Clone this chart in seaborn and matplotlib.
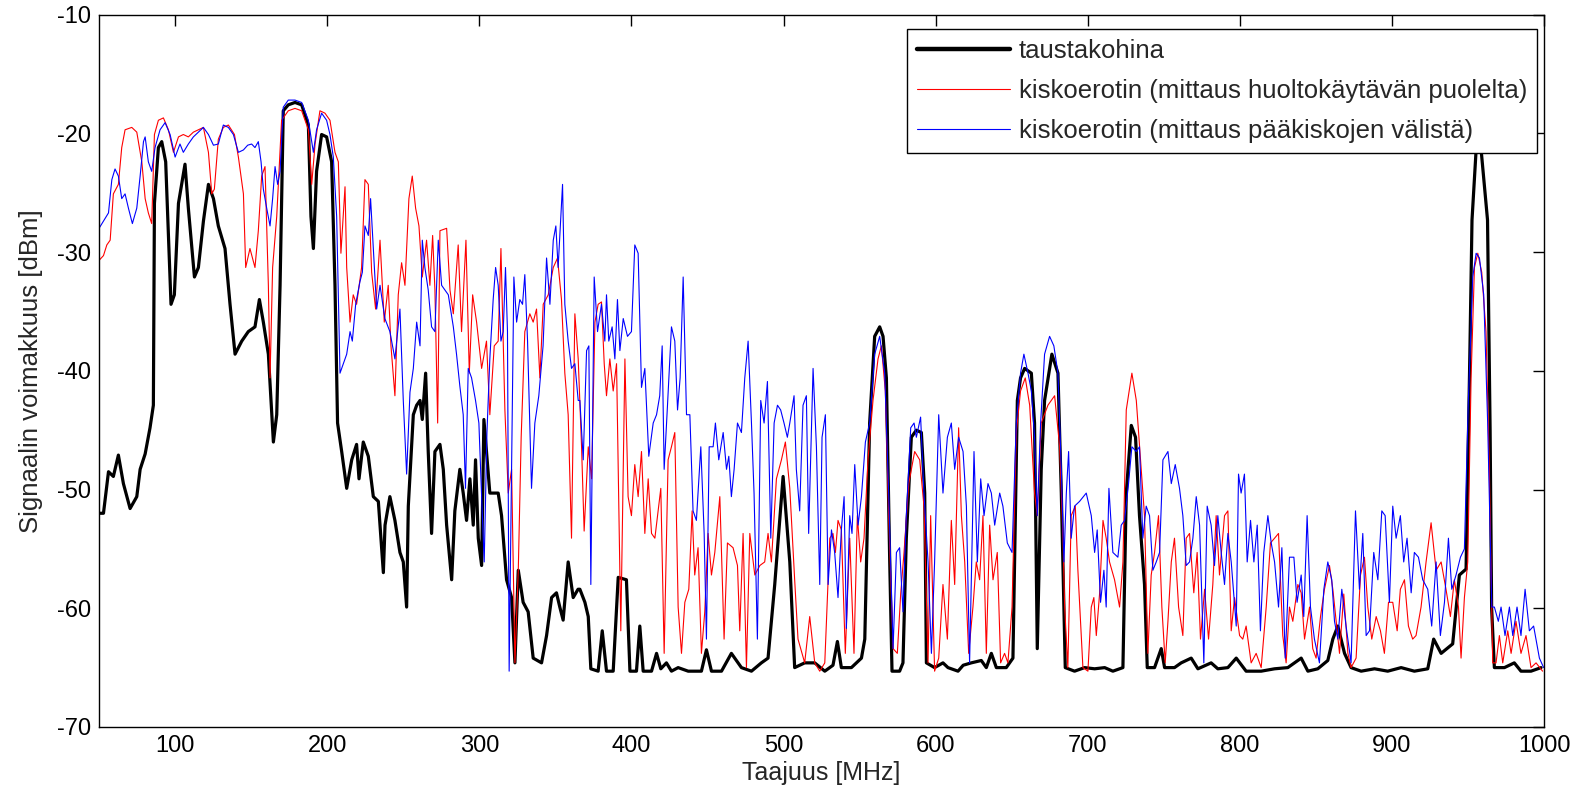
import matplotlib
matplotlib.use("Agg")
import matplotlib.pyplot as plt
import seaborn as sns
import pandas as pd

# ---------------- data ----------------
bg_freq = [50.0, 52.9, 56.2, 59.4, 62.7, 66.0, 70.4, 74.8, 77.0, 80.3, 83.5, 85.7, 86.4, 89.0, 91.2, 93.8,
           97.3, 99.5, 102.2, 106.5, 108.7, 112.7, 115.3, 118.6, 121.9, 125.2, 128.4, 132.8, 136.1, 139.4,
           143.8, 148.1, 152.5, 155.4, 158.0, 161.3, 164.6, 166.8, 169.0, 171.1, 174.4, 178.8, 183.2, 187.6,
           189.3, 190.9, 193.0, 196.3, 199.6, 202.9, 205.1, 206.8, 209.5, 212.8, 216.1, 219.3, 220.9, 223.7,
           227.0, 230.3, 233.6, 236.9, 238.0, 241.2, 244.5, 247.8, 250.0, 252.2, 253.3, 256.6, 258.8, 261.0,
           262.5, 264.7, 266.4, 268.6, 270.8, 274.1, 276.3, 278.5, 281.8, 283.9, 287.2, 289.4, 291.6, 293.8,
           296.0, 297.5, 299.3, 301.5, 303.0, 304.7, 306.9, 312.4, 314.6, 317.9, 321.2, 323.4, 325.6, 328.8,
           332.1, 335.4, 340.9, 344.2, 347.5, 350.7, 352.9, 355.1, 358.4, 361.7, 364.9, 366.1, 369.4, 371.6,
           373.3, 378.1, 380.8, 383.6, 388.0, 391.3, 396.7, 399.0, 403.3, 405.5, 407.7, 413.2, 416.5, 419.3,
           423.0, 426.3, 430.7, 437.3, 446.0, 449.3, 452.6, 459.2, 465.7, 472.3, 478.9, 485.4, 489.8, 494.2,
           499.7, 504.1, 507.3, 513.9, 520.5, 527.1, 532.5, 535.4, 538.0, 544.6, 551.2, 553.4, 556.6, 559.9,
           563.2, 565.4, 567.6, 569.8, 571.3, 576.3, 578.5, 580.7, 584.0, 587.3, 590.6, 592.8, 593.9, 599.3,
           604.8, 608.1, 614.7, 618.1, 623.4, 630.0, 633.3, 636.6, 639.9, 646.4, 650.8, 653.7, 655.8, 658.5,
           662.9, 665.0, 666.8, 669.4, 671.6, 676.4, 680.4, 682.6, 685.2, 691.3, 697.9, 704.5, 711.1, 716.5,
           723.1, 725.3, 728.6, 731.4, 734.0, 737.3, 739.1, 743.9, 748.3, 750.5, 757.0, 761.4, 768.0, 772.4,
           781.1, 785.5, 792.1, 797.6, 804.1, 814.0, 822.8, 831.5, 840.3, 844.7, 851.2, 857.8, 861.1, 864.4,
           868.8, 873.1, 879.7, 888.5, 897.2, 906.0, 914.7, 923.5, 927.4, 932.3, 939.9, 944.3, 948.7, 951.0,
           952.6, 955.3, 957.0, 958.6, 962.8, 964.5, 965.5, 967.3, 973.9, 980.4, 984.8, 991.4, 998.0]
bg_db = [-52.0, -52.0, -48.5, -48.9, -47.1, -49.5, -51.6, -50.6, -48.3, -47.0, -44.8, -42.9, -25.9, -21.2, -20.7, -22.4,
         -34.4, -33.6, -25.9, -22.6, -26.3, -32.1, -31.3, -27.4, -24.3, -25.5, -27.8, -29.7, -34.4, -38.6,
         -37.5, -36.7, -36.3, -34.0, -35.9, -38.6, -46.0, -43.7, -32.8, -18.1, -17.6, -17.4, -17.6, -19.3,
         -27.0, -29.7, -23.2, -20.1, -20.3, -22.4, -32.8, -44.4, -46.8, -49.9, -47.5, -46.2, -49.1, -46.0,
         -47.2, -50.6, -51.0, -57.0, -53.0, -50.6, -52.6, -55.3, -56.1, -59.9, -51.4, -43.7, -42.9, -42.5,
         -44.1, -40.2, -46.8, -53.7, -46.8, -46.2, -48.3, -53.0, -57.6, -51.8, -48.3, -50.3, -52.6, -49.1,
         -53.0, -47.5, -54.1, -56.4, -44.1, -46.8, -50.3, -50.3, -52.2, -57.6, -59.1, -64.6, -56.8, -59.5,
         -60.3, -64.2, -64.6, -62.3, -59.1, -58.7, -59.9, -61.0, -56.1, -59.1, -58.4, -58.4, -59.5, -60.7,
         -65.1, -65.3, -61.9, -65.3, -65.3, -57.4, -57.6, -65.3, -65.3, -61.5, -65.3, -65.3, -63.8, -65.1,
         -64.6, -65.3, -65.0, -65.3, -65.3, -63.5, -65.3, -65.3, -63.8, -65.0, -65.3, -64.6, -64.2, -58.0,
         -48.9, -56.1, -65.0, -64.6, -64.6, -65.3, -64.8, -62.8, -65.0, -65.0, -64.2, -62.6, -44.4, -37.1,
         -36.3, -37.1, -40.6, -56.1, -65.3, -65.3, -64.6, -54.1, -45.6, -45.0, -45.2, -50.3, -64.6, -65.0,
         -64.6, -65.0, -65.3, -64.8, -64.6, -64.4, -65.0, -63.8, -65.0, -65.0, -64.2, -42.5, -40.6, -39.8,
         -40.2, -44.4, -63.4, -48.3, -42.5, -38.6, -40.2, -50.3, -65.0, -65.3, -65.0, -65.1, -65.0, -65.3,
         -65.0, -50.3, -44.6, -45.6, -52.2, -58.0, -65.0, -65.0, -63.4, -65.0, -65.0, -64.6, -64.2, -65.1,
         -64.6, -65.1, -65.0, -64.2, -65.3, -65.3, -65.1, -65.0, -64.2, -65.3, -65.1, -64.4, -62.6, -61.5,
         -63.8, -65.0, -65.3, -65.1, -65.3, -65.0, -65.3, -65.1, -62.6, -63.8, -63.0, -57.2, -56.7, -40.0,
         -27.3, -21.4, -17.5, -21.4, -27.3, -45.0, -60.0, -65.0, -65.0, -64.6, -65.3, -65.3, -65.0]

red_freq = [50.0, 52.9, 55.1, 57.3, 59.4, 62.7, 64.9, 67.1, 71.5, 74.8, 78.1, 80.3, 82.4, 84.6, 86.4, 89.0,
            92.3, 95.6, 98.9, 102.2, 105.4, 108.7, 112.0, 115.3, 118.6, 121.9, 124.1, 125.8, 128.4, 131.7,
            135.0, 139.0, 141.6, 144.9, 146.4, 149.2, 152.5, 154.7, 156.9, 159.1, 161.3, 162.4, 164.1, 166.8,
            170.0, 174.4, 178.8, 183.2, 187.6, 189.8, 192.0, 195.2, 198.5, 201.8, 205.1, 207.3, 209.0, 210.6,
            211.7, 212.8, 215.0, 217.1, 219.3, 222.6, 224.8, 227.0, 229.2, 231.8, 234.7, 237.5, 240.1, 241.9,
            244.5, 246.7, 248.9, 251.1, 253.7, 255.9, 258.1, 260.3, 262.5, 265.3, 267.5, 269.3, 270.8, 272.6,
            274.1, 278.5, 280.7, 282.9, 286.1, 288.3, 291.2, 293.4, 295.6, 298.2, 301.5, 304.7, 306.9, 309.8,
            312.4, 314.2, 316.8, 319.0, 321.2, 323.4, 325.6, 327.5, 329.9, 333.2, 335.4, 337.6, 339.8, 342.0,
            345.3, 348.6, 351.4, 354.0, 356.2, 358.4, 360.6, 362.8, 365.0, 367.2, 368.9, 371.6, 373.8, 376.0,
            378.1, 380.3, 382.1, 383.6, 385.8, 388.0, 390.2, 393.0, 395.7, 397.8, 400.0, 402.2, 404.4, 406.6,
            408.8, 411.0, 413.2, 415.4, 419.3, 421.5, 424.1, 426.3, 428.5, 430.7, 432.9, 435.1, 437.7, 439.9,
            441.6, 443.8, 446.0, 448.2, 450.4, 452.6, 454.8, 458.1, 460.9, 463.1, 466.8, 469.7, 471.2, 473.4,
            475.6, 477.8, 481.1, 484.4, 487.6, 489.8, 492.0, 495.3, 498.6, 501.2, 504.1, 507.3, 509.5, 513.9,
            517.2, 520.5, 523.8, 527.1, 530.4, 532.5, 534.1, 535.8, 538.0, 540.6, 543.5, 546.3, 548.5, 550.7,
            552.9, 555.5, 558.8, 562.1, 564.3, 566.9, 569.1, 572.0, 574.8, 577.0, 579.2, 582.3, 586.2, 589.5,
            592.3, 595.0, 596.7, 599.3, 602.0, 604.8, 607.7, 610.3, 612.5, 615.1, 616.9, 619.1, 621.7, 624.5,
            626.7, 628.9, 631.1, 633.3, 635.5, 637.7, 640.5, 642.7, 645.3, 647.5, 650.2, 653.0, 655.8, 658.9,
            661.8, 665.0, 666.8, 669.4, 673.8, 678.2, 681.5, 683.7, 684.8, 686.9, 689.1, 691.8, 693.5, 696.8,
            700.1, 702.3, 704.0, 705.6, 707.8, 710.0, 712.1, 714.3, 717.6, 720.9, 723.1, 725.3, 729.0, 731.9,
            735.1, 737.3, 739.5, 741.7, 743.9, 746.5, 748.7, 750.9, 752.7, 754.9, 757.0, 759.7, 762.5, 764.7,
            766.9, 769.7, 771.9, 774.1, 776.8, 779.4, 782.2, 784.4, 786.6, 789.9, 792.1, 794.3, 796.5, 799.8,
            801.9, 804.1, 807.4, 810.7, 814.0, 817.3, 820.1, 822.8, 825.4, 828.2, 830.4, 832.6, 834.8, 838.1,
            840.3, 842.5, 845.8, 847.9, 850.1, 853.0, 855.6, 858.9, 861.1, 863.3, 865.5, 868.3, 871.0, 873.1,
            876.4, 879.3, 881.9, 884.1, 886.7, 889.6, 892.4, 895.0, 897.7, 900.5, 903.4, 905.5, 908.2, 910.8,
            913.6, 915.8, 919.1, 922.4, 925.7, 929.0, 932.3, 935.5, 938.4, 941.0, 943.7, 945.4, 947.6, 949.8,
            952.0, 954.2, 956.4, 959.0, 961.8, 964.0, 966.2, 968.4, 970.6, 972.8, 976.1, 978.3, 981.5, 984.8,
            988.1, 991.4, 994.7, 999.0]
red_db = [-30.7, -30.3, -29.4, -29.0, -25.1, -24.3, -21.2, -19.7, -19.5, -19.9, -22.4, -25.5, -26.7, -27.6, -20.1, -18.9,
          -18.7, -19.7, -21.6, -20.3, -20.1, -20.3, -19.9, -19.7, -19.5, -21.6, -25.1, -24.7, -20.5, -19.5,
          -19.3, -20.1, -22.0, -25.1, -31.3, -29.7, -31.3, -28.2, -23.6, -22.8, -32.8, -40.6, -31.3, -27.0,
          -18.9, -18.1, -17.9, -18.1, -19.7, -24.3, -20.9, -18.1, -18.3, -18.9, -21.6, -22.4, -30.1, -26.7,
          -24.5, -31.3, -35.9, -33.6, -34.4, -31.3, -23.9, -24.3, -31.7, -34.8, -29.0, -35.9, -32.8, -37.9,
          -42.1, -33.6, -30.9, -32.8, -25.5, -23.6, -26.3, -27.8, -32.1, -29.0, -32.8, -28.6, -33.2, -44.4,
          -28.2, -28.0, -33.2, -35.2, -29.4, -36.7, -29.0, -40.2, -33.6, -35.9, -39.8, -37.5, -43.7, -37.9,
          -37.5, -29.7, -43.3, -50.3, -48.3, -64.6, -56.8, -45.6, -36.7, -35.2, -35.9, -34.8, -40.6, -34.4,
          -33.6, -31.3, -30.5, -34.0, -40.2, -43.7, -54.1, -35.2, -39.0, -46.4, -53.5, -46.4, -49.1, -35.9,
          -34.4, -34.2, -39.4, -42.1, -39.0, -41.7, -39.4, -61.9, -39.0, -50.6, -52.2, -47.9, -50.6, -46.8,
          -53.7, -49.1, -53.7, -54.1, -49.9, -63.8, -47.5, -46.4, -45.2, -59.9, -63.8, -59.5, -58.4, -51.8,
          -57.2, -54.9, -63.8, -60.3, -53.7, -57.2, -55.3, -50.6, -62.6, -54.5, -54.9, -56.4, -61.9, -53.7,
          -65.0, -53.7, -57.2, -56.4, -56.1, -53.7, -56.1, -49.1, -47.5, -46.0, -49.9, -57.6, -62.6, -64.6,
          -60.7, -64.6, -65.3, -64.6, -54.1, -53.7, -55.3, -52.6, -53.4, -63.8, -54.1, -63.8, -52.2, -56.1,
          -54.1, -47.5, -42.5, -39.0, -37.9, -41.7, -52.2, -63.4, -63.8, -58.8, -55.3, -49.5, -46.8, -47.5,
          -51.4, -64.6, -52.2, -65.3, -64.2, -58.0, -62.6, -52.6, -58.0, -44.8, -52.2, -56.1, -63.8, -59.9,
          -56.1, -57.6, -52.2, -63.8, -53.0, -57.6, -55.3, -64.6, -63.8, -64.6, -59.9, -45.2, -41.7, -40.6,
          -42.9, -50.3, -52.2, -44.4, -42.9, -42.1, -46.4, -54.1, -59.9, -65.0, -52.2, -51.4, -56.8, -65.0,
          -65.3, -59.9, -59.1, -62.3, -58.7, -52.6, -54.1, -56.1, -57.6, -59.9, -56.1, -43.3, -40.2, -42.5,
          -48.3, -52.2, -63.8, -57.2, -55.3, -52.2, -59.9, -64.6, -61.1, -56.1, -54.1, -59.9, -62.3, -54.1,
          -53.7, -58.7, -55.3, -62.6, -58.4, -62.6, -58.0, -52.2, -57.2, -52.2, -51.8, -61.9, -59.1, -62.3,
          -62.6, -61.5, -64.6, -63.8, -65.0, -59.9, -54.5, -54.1, -53.7, -62.3, -64.6, -59.9, -61.1, -58.0,
          -58.7, -62.6, -59.9, -63.4, -64.2, -60.7, -58.4, -56.4, -58.4, -61.1, -63.8, -58.8, -63.8, -65.0,
          -64.2, -57.2, -55.7, -59.9, -62.6, -60.7, -61.9, -63.8, -59.5, -59.5, -61.9, -58.4, -57.6, -61.5,
          -62.6, -62.3, -59.9, -56.1, -52.8, -56.8, -56.1, -58.4, -60.7, -57.6, -59.9, -64.2, -59.1, -56.1,
          -40.6, -31.3, -30.1, -31.7, -36.7, -48.3, -64.6, -64.6, -62.3, -64.6, -61.9, -63.8, -61.1, -63.8,
          -62.3, -65.0, -64.6, -65.3]

blue_freq = [50.0, 52.9, 56.2, 58.4, 60.5, 62.7, 64.9, 67.1, 69.3, 71.9, 74.8, 77.0, 79.2, 80.3, 82.4, 84.6,
             86.8, 90.1, 93.4, 96.7, 100.0, 103.2, 105.4, 108.7, 112.0, 115.3, 118.6, 121.9, 125.2, 128.4,
             131.7, 135.0, 138.3, 141.6, 144.9, 147.7, 150.3, 152.5, 154.7, 156.5, 158.0, 160.2, 162.4, 164.1,
             165.7, 167.4, 169.0, 171.1, 174.4, 178.8, 183.2, 187.6, 190.9, 193.0, 196.3, 199.6, 201.8, 204.0,
             206.2, 208.4, 210.6, 212.8, 215.0, 216.5, 218.7, 221.5, 223.1, 224.8, 227.0, 228.5, 230.3, 232.5,
             234.7, 237.9, 241.2, 244.5, 247.8, 250.0, 252.2, 254.4, 256.6, 258.8, 261.0, 262.5, 264.2, 266.4,
             268.6, 270.8, 273.0, 275.2, 277.4, 279.6, 282.9, 285.0, 287.2, 289.4, 290.9, 292.7, 294.9, 297.5,
             299.7, 301.5, 303.2, 305.0, 306.9, 309.1, 310.7, 312.4, 314.2, 315.7, 317.2, 318.5, 319.6, 321.2,
             322.7, 324.5, 326.6, 328.4, 329.9, 331.7, 334.3, 336.5, 339.1, 341.9, 344.2, 346.4, 348.6, 350.3,
             351.8, 354.7, 356.2, 358.4, 360.6, 362.8, 365.0, 366.1, 368.3, 370.5, 372.0, 373.3, 375.5, 377.7,
             380.3, 382.5, 383.6, 385.1, 387.3, 389.1, 390.8, 392.4, 394.6, 397.4, 400.0, 402.2, 404.4, 406.6,
             408.8, 411.4, 414.3, 416.5, 418.6, 420.2, 421.5, 423.7, 426.3, 428.5, 430.3, 432.0, 434.0, 436.2,
             438.4, 440.5, 442.7, 445.6, 447.8, 449.3, 451.1, 453.7, 455.2, 457.4, 460.3, 462.5, 464.0, 465.7,
             467.5, 469.7, 472.3, 474.5, 476.7, 478.9, 480.6, 482.8, 485.0, 487.2, 489.4, 491.6, 493.8, 496.0,
             498.1, 500.3, 502.5, 504.1, 506.9, 508.4, 510.6, 512.8, 515.0, 516.5, 519.4, 521.6, 523.8, 525.3,
             527.5, 529.3, 531.5, 533.6, 535.8, 538.0, 539.8, 541.3, 543.5, 545.0, 546.8, 549.0, 551.2, 553.8,
             556.6, 559.9, 563.2, 566.5, 569.1, 572.0, 574.2, 576.3, 578.5, 580.7, 583.6, 585.8, 587.3, 590.1,
             592.3, 595.0, 597.2, 599.3, 602.0, 604.8, 607.7, 610.3, 612.5, 615.1, 618.0, 620.2, 622.3, 625.2,
             627.4, 629.6, 631.8, 634.4, 636.6, 638.8, 642.1, 644.2, 647.1, 650.2, 653.0, 655.8, 658.0, 660.7,
             662.9, 665.0, 666.8, 669.0, 671.6, 674.9, 677.7, 680.4, 682.6, 684.3, 685.9, 687.4, 689.1, 691.3,
             694.6, 699.0, 702.3, 704.5, 706.2, 708.4, 710.6, 712.1, 713.9, 716.5, 719.8, 722.0, 724.2, 726.8,
             729.0, 731.9, 734.0, 736.2, 738.4, 740.6, 742.8, 745.0, 747.2, 749.4, 752.7, 754.9, 757.5, 760.3,
             762.5, 764.7, 766.9, 769.1, 771.3, 773.5, 776.3, 778.5, 781.1, 783.3, 785.5, 787.7, 789.9, 792.1,
             794.3, 797.6, 799.1, 800.8, 803.0, 804.8, 807.0, 809.2, 811.4, 813.5, 815.7, 818.4, 820.6, 822.8,
             825.4, 827.6, 829.8, 832.6, 835.5, 837.6, 840.3, 842.0, 844.2, 846.4, 849.0, 852.3, 855.2, 857.8,
             860.4, 862.2, 864.4, 867.0, 869.8, 873.1, 876.0, 878.6, 880.8, 883.0, 885.2, 888.0, 890.7, 893.3,
             895.5, 898.3, 900.5, 902.7, 905.5, 907.7, 909.9, 912.6, 914.7, 917.4, 920.2, 923.5, 926.1, 929.0,
             931.8, 934.5, 937.1, 939.3, 942.1, 945.0, 947.6, 950.2, 953.1, 955.3, 957.5, 960.3, 962.9, 965.6,
             967.3, 969.9, 971.7, 974.3, 977.2, 979.4, 982.2, 984.8, 987.5, 990.3, 993.1, 996.9, 999.7]
blue_db = [-28.0, -27.4, -26.7, -23.9, -23.0, -23.6, -25.5, -25.1, -26.3, -27.6, -26.3, -23.6, -20.7, -20.3, -22.4, -23.2,
           -21.2, -19.7, -19.1, -20.1, -22.0, -20.9, -21.6, -20.9, -20.3, -19.9, -19.5, -20.1, -21.0, -20.9,
           -19.3, -19.5, -20.1, -21.6, -21.4, -21.0, -20.9, -21.2, -20.7, -22.4, -24.7, -26.3, -27.8, -25.5,
           -22.8, -24.3, -23.2, -17.8, -17.2, -17.2, -17.4, -18.9, -21.6, -19.7, -18.3, -18.9, -20.1, -22.0,
           -27.0, -40.2, -39.4, -38.6, -36.7, -37.5, -34.4, -32.5, -31.7, -27.8, -28.6, -25.5, -29.7, -34.8,
           -32.8, -35.6, -36.7, -39.0, -34.8, -42.5, -48.7, -41.8, -39.8, -35.9, -37.9, -29.0, -31.3, -33.2,
           -36.3, -36.7, -29.0, -32.8, -33.2, -33.6, -36.3, -38.6, -41.3, -43.7, -49.9, -39.8, -40.6, -42.5,
           -44.4, -50.6, -56.1, -45.2, -39.0, -34.0, -31.3, -32.8, -37.5, -36.7, -31.3, -36.7, -65.3, -48.3,
           -32.1, -35.9, -34.0, -34.4, -31.9, -37.5, -49.9, -44.4, -42.1, -37.9, -30.5, -34.4, -29.0, -27.8,
           -31.3, -24.3, -34.4, -37.5, -39.8, -39.4, -42.5, -42.5, -47.5, -38.3, -37.9, -58.0, -32.1, -36.7,
           -34.4, -37.5, -33.6, -37.5, -36.3, -39.0, -34.0, -38.3, -35.6, -37.1, -36.7, -29.4, -30.1, -41.4,
           -39.8, -47.2, -44.4, -43.7, -42.1, -37.9, -48.3, -42.9, -36.3, -37.5, -43.3, -40.6, -32.1, -43.7,
           -43.7, -51.8, -52.6, -46.4, -53.7, -62.6, -46.4, -46.4, -44.4, -47.5, -45.2, -48.3, -47.2, -50.6,
           -48.3, -44.4, -45.2, -40.6, -37.5, -44.4, -50.3, -62.6, -42.5, -44.4, -40.9, -54.1, -44.4, -42.9,
           -43.3, -44.4, -45.6, -44.4, -42.1, -48.3, -51.8, -42.9, -42.1, -53.7, -39.8, -46.4, -58.0, -45.6,
           -43.7, -58.0, -53.4, -55.3, -59.1, -53.4, -50.6, -61.7, -52.2, -53.7, -47.9, -53.0, -50.6, -46.0,
           -44.4, -38.6, -37.1, -40.2, -50.3, -63.4, -55.3, -54.9, -60.3, -52.2, -44.8, -44.4, -45.6, -43.9,
           -50.3, -56.1, -63.8, -56.1, -43.7, -50.3, -45.6, -44.4, -48.3, -45.6, -46.8, -51.4, -64.6, -46.8,
           -56.1, -49.1, -52.2, -49.5, -50.3, -53.0, -50.3, -51.4, -54.5, -55.3, -44.4, -40.2, -38.6, -40.2,
           -41.7, -45.6, -52.2, -44.4, -38.6, -37.1, -37.9, -40.2, -48.3, -56.1, -50.3, -46.8, -54.1, -51.4,
           -51.0, -50.3, -52.2, -55.3, -53.4, -59.5, -56.8, -59.9, -49.9, -55.3, -55.7, -53.0, -52.6, -49.5,
           -46.4, -46.8, -46.4, -54.1, -51.4, -52.2, -56.8, -56.1, -55.3, -47.5, -46.8, -49.5, -47.9, -49.9,
           -52.2, -56.4, -56.1, -54.1, -50.6, -53.0, -64.6, -51.4, -53.0, -56.4, -52.2, -55.3, -58.0, -53.7,
           -56.1, -61.5, -48.7, -50.3, -48.7, -56.1, -52.6, -56.1, -53.0, -61.9, -55.3, -52.2, -54.5, -56.1,
           -59.9, -54.9, -64.2, -55.7, -55.7, -59.5, -57.2, -60.7, -52.2, -59.9, -62.6, -64.6, -58.4, -56.1,
           -57.6, -61.1, -62.6, -58.4, -61.5, -64.6, -51.8, -58.4, -53.7, -62.3, -61.9, -55.3, -57.6, -51.8,
           -52.2, -59.5, -51.4, -54.1, -52.2, -56.1, -54.1, -58.7, -55.3, -55.7, -57.6, -58.4, -61.5, -56.1,
           -62.3, -59.5, -54.1, -58.4, -57.2, -55.7, -55.0, -42.5, -32.1, -30.1, -30.5, -33.6, -44.4, -59.9,
           -59.9, -61.1, -59.9, -62.3, -59.9, -62.3, -59.9, -62.3, -58.4, -61.9, -61.5, -64.2, -65.0]

labels = ["taustakohina",
          "kiskoerotin (mittaus huoltokäytävän puolelta)",
          "kiskoerotin (mittaus pääkiskojen välistä)"]
x_ticks = [100, 200, 300, 400, 500, 600, 700, 800, 900, 1000]
y_ticks = [-70, -60, -50, -40, -30, -20, -10]

# ---------------- plotting ----------------
sns.set_theme(style="white")
plt.rcParams["font.family"] = ["Liberation Sans", "DejaVu Sans"]
plt.rcParams["axes.unicode_minus"] = False

fig = plt.figure(figsize=(15.85, 7.98), dpi=100)
ax = fig.add_axes([0.0625, 0.089, 0.9117, 0.8927])

df_bg = pd.DataFrame({"f": bg_freq, "p": bg_db})
df_red = pd.DataFrame({"f": red_freq, "p": red_db})
df_blue = pd.DataFrame({"f": blue_freq, "p": blue_db})

sns.lineplot(data=df_bg, x="f", y="p", ax=ax, color="black", linewidth=2.3,
             label=labels[0], sort=False, estimator=None)
sns.lineplot(data=df_red, x="f", y="p", ax=ax, color="#ff0000", linewidth=0.8,
             label=labels[1], sort=False, estimator=None)
sns.lineplot(data=df_blue, x="f", y="p", ax=ax, color="#0000ff", linewidth=0.8,
             label=labels[2], sort=False, estimator=None)

ax.set_xlim(50, 1000)
ax.set_ylim(-70, -10)
ax.set_xticks(x_ticks)
ax.set_yticks(y_ticks)
ax.set_xlabel("Taajuus [MHz]", fontsize=18, labelpad=3)
ax.set_ylabel("Signaalin voimakkuus [dBm]", fontsize=18.5, labelpad=10)
ax.tick_params(axis="both", which="both", direction="in", length=8, width=1.0,
               top=True, right=True, labelsize=17, colors="black", pad=5.5)
for sp in ax.spines.values():
    sp.set_color("black")
    sp.set_linewidth(1.0)
    sp.set_visible(True)

leg = ax.legend(loc="upper right", bbox_to_anchor=(0.9952, 0.9798), borderaxespad=0,
                fontsize=18.5, frameon=True, fancybox=False, framealpha=1,
                edgecolor="black", handlelength=3.6, handletextpad=0.35,
                labelspacing=0.62, borderpad=0.4)
leg.get_frame().set_linewidth(1.0)
leg.get_lines()[0].set_linewidth(3.2)

fig.savefig("out.png", dpi=100)
